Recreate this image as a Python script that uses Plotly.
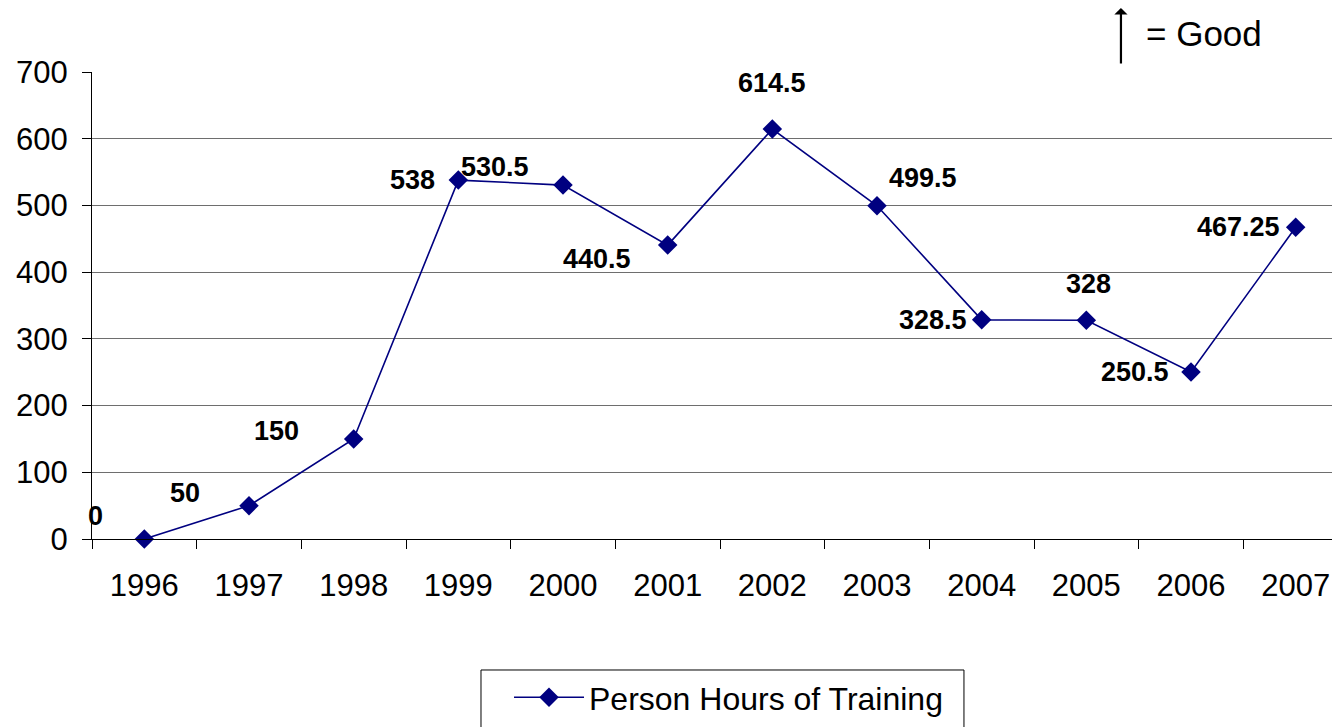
import plotly.graph_objects as go

years = [1996, 1997, 1998, 1999, 2000, 2001, 2002, 2003, 2004, 2005, 2006, 2007]
hours = [0, 50, 150, 538, 530.5, 440.5, 614.5, 499.5, 328.5, 328, 250.5, 467.25]
labels = ["0", "50", "150", "538", "530.5", "440.5", "614.5", "499.5", "328.5", "328", "250.5", "467.25"]
# pixel offsets of each data label relative to its point (style only)
label_dx = [-49, -64, -77, -46, -68, -71, 0, 46, -49, 2, -56, -57]
label_dy = [23, 13, 8, 0, 18, -14, 46, 28, 0, 36, 0, 0]

FONT = "Liberation Sans, Arial, sans-serif"
NAVY = "#000080"

fig = go.Figure()
fig.add_trace(go.Scatter(
    x=years, y=hours, mode="lines+markers", name="Person Hours of Training",
    line=dict(color=NAVY, width=1.6),
    marker=dict(symbol="diamond", size=15, color=NAVY),
    cliponaxis=False,
))

for x, y, t, dx, dy in zip(years, hours, labels, label_dx, label_dy):
    fig.add_annotation(x=x, y=y, xref="x", yref="y", text="<b>%s</b>" % t, showarrow=False,
                       xanchor="center", yanchor="middle",
                       xshift=dx, yshift=dy,
                       font=dict(family=FONT, size=27, color="black"))

# "up arrow = Good" note
fig.add_annotation(xref="paper", yref="paper", x=0.8298, y=1.137, ax=0, ay=57,
                   axref="pixel", ayref="pixel", text="", showarrow=True,
                   arrowhead=1, arrowsize=1, arrowwidth=2.2, arrowcolor="black")
fig.add_annotation(xref="paper", yref="paper", x=0.8968, y=1.0835, text="= Good",
                   xanchor="center", yanchor="middle",
                   showarrow=False, font=dict(family=FONT, size=35, color="black"))

# legend frame
fig.add_shape(type="rect", xref="paper", yref="paper", x0=0.3137, x1=0.7032,
              y0=-0.2805, y1=-0.45, line=dict(color="black", width=1), fillcolor="white",
              layer="below")

fig.update_layout(
    width=1332, height=727,
    margin=dict(l=92, r=0, t=72, b=188),
    paper_bgcolor="white", plot_bgcolor="white",
    font=dict(family=FONT, size=31, color="black"),
    showlegend=True,
    legend=dict(orientation="h", x=0.3363, xanchor="left", y=-0.2805, yanchor="top",
                borderwidth=0, font=dict(family=FONT, size=32),
                itemwidth=70, bgcolor="rgba(0,0,0,0)"),
    xaxis=dict(range=[1995.5, 2007.347], tickmode="array", tickvals=years,
               showgrid=False, zeroline=False,
               showline=True, linecolor="black", linewidth=1,
               ticks="", tickfont=dict(family=FONT, size=31), ticklabelstandoff=19,
               minor=dict(ticks="outside", ticklen=9, tickcolor="black",
                          tick0=1995.5, dtick=1, showgrid=False)),
    yaxis=dict(range=[0, 700], dtick=100, showgrid=True, gridcolor="#6e6e6e", gridwidth=1,
               showline=True, linecolor="black", linewidth=1,
               ticks="outside", ticklen=9, tickcolor="black",
               zeroline=True, zerolinecolor="black", zerolinewidth=1,
               tickfont=dict(family=FONT, size=31), ticklabelstandoff=8),
)

fig.write_html("out.html", config={"displayModeBar": False},
               post_script="document.body.style.margin='0';document.body.style.overflow='hidden';")
